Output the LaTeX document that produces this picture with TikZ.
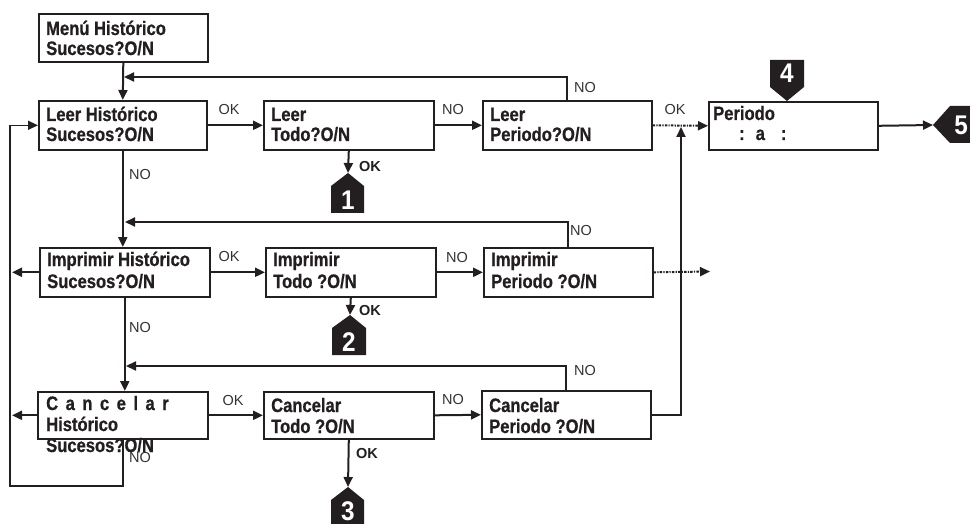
\documentclass[tikz,border=0pt]{standalone}
\usepackage{fontspec}
\setmainfont{Liberation Sans}
\newfontfamily\boxfont{Liberation Sans}[FakeStretch=0.85,BoldFeatures={FakeBold=0.7}]
\newfontfamily\numfamily{Liberation Sans}[FakeStretch=0.9]
\usetikzlibrary{arrows.meta,calc}
\definecolor{ink}{HTML}{231F20}
\definecolor{lblink}{HTML}{333333}
\newcommand\boxtext[2][20pt]{\vtop{\baselineskip=#1\relax\lineskiplimit=-30pt\halign{##\hfil\cr#2\crcr}}}
\begin{document}
\begin{tikzpicture}[x=1pt,y=-1pt,
  box/.style={draw=ink, line width=1.6pt, fill=white, inner sep=0pt, anchor=north west},
  txt/.style={font=\boxfont\bfseries\fontsize{19.5}{20}\selectfont, text=ink, inner sep=0pt, anchor=base west},
  conn/.style={draw=ink, line width=2pt},
  arr/.style={conn, -{Triangle[length=10pt,width=9pt]}},
  dotarr/.style={draw=ink, line width=2pt, dash pattern=on 2.5pt off 1.2pt on 1.2pt off 1.2pt, -{Triangle[length=10pt,width=9pt]}},
  looparr/.style={draw=ink, line width=1.4pt, -{Triangle[length=10pt,width=9pt]}},
  lbl/.style={font=\fontsize{14.5}{16}\selectfont, text=lblink, inner sep=0pt},
  blbl/.style={font=\bfseries\fontsize{14.5}{16}\selectfont, text=ink, inner sep=0pt},
  badge/.style={fill=ink},
  num/.style={font=\numfamily\bfseries\fontsize{27}{28}\selectfont, text=white, inner sep=0pt}
]
\useasboundingbox (0,0) rectangle (970,524);

% ---------- boxes ----------
\node[box, minimum width=169pt, minimum height=48pt] (menu) at (38,13) {};
\node[box, minimum width=168pt, minimum height=49pt] (lh) at (38,100) {};
\node[box, minimum width=170pt, minimum height=49pt] (lt) at (263,100) {};
\node[box, minimum width=169pt, minimum height=49pt] (lp) at (482,100) {};
\node[box, minimum width=169pt, minimum height=48pt] (per) at (708,101) {};
\node[box, minimum width=170pt, minimum height=49pt] (ih) at (39,247) {};
\node[box, minimum width=170pt, minimum height=49pt] (it) at (265,247) {};
\node[box, minimum width=169pt, minimum height=49pt] (ip) at (483,247) {};
\node[box, minimum width=170pt, minimum height=47pt] (ch) at (37,391) {};
\node[box, minimum width=170pt, minimum height=47pt] (ct) at (263,391) {};
\node[box, minimum width=169pt, minimum height=48pt] (cp) at (481,390) {};

% ---------- box texts ----------
\node[txt] (menut) at ($(menu.north west)+(8,22)$) {\boxtext{Menú Histórico\cr Sucesos?O/N}};
\node[txt] (lht) at ($(lh.north west)+(8,21)$) {\boxtext{Leer Histórico\cr Sucesos?O/N}};
\node[txt] (ltt) at ($(lt.north west)+(8,21)$) {\boxtext{Leer\cr Todo?O/N}};
\node[txt] (lpt) at ($(lp.north west)+(8,21)$) {\boxtext{Leer\cr Periodo?O/N}};
\node[txt] (pert) at ($(per.north west)+(5,19)$) {\boxtext{Periodo\cr \hspace{26pt}:\hspace{11pt}a\hspace{16pt}:}};
\node[txt] (iht) at ($(ih.north west)+(8,19)$) {\boxtext[22pt]{Imprimir Histórico\cr Sucesos?O/N}};
\node[txt] (itt) at ($(it.north west)+(8,19)$) {\boxtext[22pt]{Imprimir\cr Todo ?O/N}};
\node[txt] (ipt) at ($(ip.north west)+(8,19)$) {\boxtext[22pt]{Imprimir\cr Periodo ?O/N}};
\node[txt] (cht) at ($(ch.north west)+(9,19)$) {\boxtext[21pt]{C\hspace{7.5pt}a\hspace{7.5pt}n\hspace{7.5pt}c\hspace{7.5pt}e\hspace{7.5pt}l\hspace{7.5pt}a\hspace{7.5pt}r\cr Histórico\cr Sucesos?O/N}};
\node[txt] (ctt) at ($(ct.north west)+(8,21)$) {\boxtext[21pt]{Cancelar\cr Todo ?O/N}};
\node[txt] (cpt) at ($(cp.north west)+(8,22)$) {\boxtext[21pt]{Cancelar\cr Periodo ?O/N}};

% ---------- badges ----------
\fill[badge] (331,186) -- (348,173) -- (364,186) -- (364,213) -- (331,213) -- cycle;
\node[num] (n1) at (348,200) {1};
\coordinate (b1tip) at (348,173);
\fill[badge] (332,328) -- (350,315) -- (366,328) -- (366,355) -- (332,355) -- cycle;
\node[num] (n2) at (349,342) {2};
\coordinate (b2tip) at (350,315);
\fill[badge] (331,500) -- (348,487) -- (364,500) -- (364,530) -- (331,530) -- cycle;
\node[num] (n3) at (348,511) {3};
\coordinate (b3tip) at (348,487);
\fill[badge] (770,60) -- (804,60) -- (804,87) -- (787,101) -- (770,87) -- cycle;
\node[num] (n4) at (787,73) {4};
\fill[badge] (933,125) -- (950,106) -- (975,106) -- (975,143) -- (950,143) -- cycle;
\node[num] (n5) at (961,125) {5};
\coordinate (b5tip) at (933,125);

% ---------- free-end coordinates ----------
\coordinate (r1) at (124,77);
\coordinate (r2) at (125,222);
\coordinate (r3) at (126,366);
\coordinate (lw) at (12,0);
\coordinate (ipend) at (710,271.5);
\coordinate (uptip) at (681,127);
\coordinate (lft) at (10,486);

% ---------- connectors ----------
\draw[arr] (menu.south) -- (lh.north);
\draw[arr] (lp.north) |- (r1);
\draw[arr] (lh.east) -- (lt.west);
\draw[arr] (lt.east) -- (lp.west);
\draw[arr] (lt.south) -- (b1tip);
\draw[dotarr] (lp.east) -- (per.west);
\draw[arr] (per.east) -- (b5tip);
\draw[arr] (lh.south) -- (lh.south |- ih.north);

\draw[arr] (ip.north) |- (r2);
\draw[arr] (ih.east) -- (it.west);
\draw[arr] (it.east) -- (ip.west);
\draw[arr] (it.south) -- (b2tip);
\draw[dotarr] (ip.east) -- (ipend);
\draw[arr] (ih.west) -- (ih.west -| lw);
\draw[arr] (ih.south) -- (ih.south |- ch.north);

\draw[arr] (cp.north) |- (r3);
\draw[arr] (ch.east) -- (ct.west);
\draw[arr] (ch.west) -- (ch.west -| lw);
\draw[arr] (ct.east) -- (cp.west);
\draw[arr] (ct.south) -- (b3tip);
\draw[arr] (cp.east) -| (uptip);
\draw[looparr] (ch.south) |- (lft) |- (lh.west);

% ---------- labels ----------
\node[lbl] (l1) at (229,110) {OK};
\node[lbl] (l2) at (453,110) {NO};
\node[lbl] (l3) at (585,88) {NO};
\node[lbl] (l4) at (675,110) {OK};
\node[lbl] (l5) at (140,175) {NO};
\node[blbl] (l6) at (370,167) {OK};

\node[lbl] (l7) at (229,257) {OK};
\node[lbl] (l8) at (457,258) {NO};
\node[lbl] (l9) at (581,231) {NO};
\node[lbl] (l10) at (140,328) {NO};
\node[blbl] (l11) at (370,311) {OK};

\node[lbl] (l12) at (233,401) {OK};
\node[lbl] (l13) at (453,400) {NO};
\node[lbl] (l14) at (585,371) {NO};
\node[lbl] (l15) at (140,458) {NO};
\node[blbl] (l16) at (367,454) {OK};
\end{tikzpicture}
\end{document}
